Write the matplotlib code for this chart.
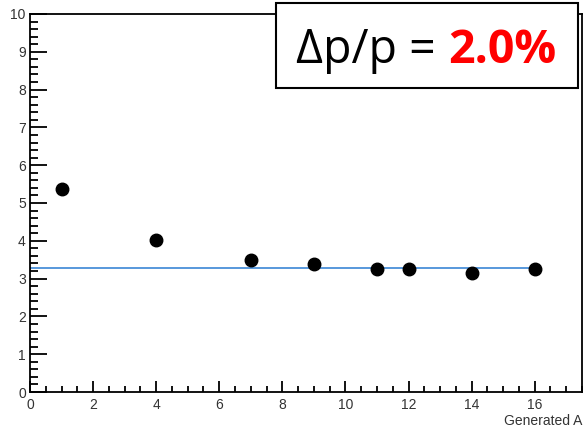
import numpy as np
import matplotlib.pyplot as plt
from matplotlib.patches import Rectangle
from matplotlib.ticker import MultipleLocator

plt.rcParams['font.family'] = ['Liberation Sans', 'DejaVu Sans']

# data
gen_a = [1, 4, 7, 9, 11, 12, 14, 16]
values = [5.37, 4.02, 3.49, 3.39, 3.26, 3.26, 3.16, 3.26]
fit_level = 3.29
fit_range = [0, 16]

fig = plt.figure(figsize=(5.84, 4.29), dpi=100)
ax = fig.add_axes([30 / 584, 37 / 429, 552 / 584, 378 / 429])

ax.plot(fit_range, [fit_level, fit_level], color='#4a90d9', lw=1.3, zorder=2)
ax.plot(gen_a, values, 'o', color='black', ms=9, zorder=3)

ax.set_xlim(0, 17.5)
ax.set_ylim(0, 10)
ax.xaxis.set_major_locator(MultipleLocator(2))
ax.xaxis.set_minor_locator(MultipleLocator(0.5))
ax.yaxis.set_major_locator(MultipleLocator(1))
ax.yaxis.set_minor_locator(MultipleLocator(0.2))
ax.tick_params(which='both', direction='in', top=False, right=False, width=1.3,
               labelsize=10, labelcolor='#333333')
ax.tick_params(axis='y', which='major', length=12, pad=3)
ax.tick_params(axis='y', which='minor', length=6)
ax.tick_params(axis='x', which='major', length=8, pad=4)
ax.tick_params(axis='x', which='minor', length=4)
for s in ax.spines.values():
    s.set_linewidth(1.3)

ax.set_xlabel('Generated A', fontsize=10, color='#333333', loc='right', labelpad=2)

# annotation box
fig.patches.append(Rectangle((276 / 584, 1 - 88 / 429), 302 / 584, 85 / 429,
                             transform=fig.transFigure, facecolor='white',
                             edgecolor='black', lw=1.5, zorder=10))
t1 = fig.text(296 / 584, 1 - 63 / 429, '\u0394p/p = ', fontsize=33.5, color='black',
              family=['Open Sans', 'DejaVu Sans'], zorder=11)
fig.canvas.draw()
bb = t1.get_window_extent().transformed(fig.transFigure.inverted())
fig.text(bb.x1, 1 - 63 / 429, '2.0%', fontsize=33.5, color='red', fontweight='bold',
         family=['Open Sans', 'DejaVu Sans'], zorder=11)

fig.savefig('out.png', dpi=100)
